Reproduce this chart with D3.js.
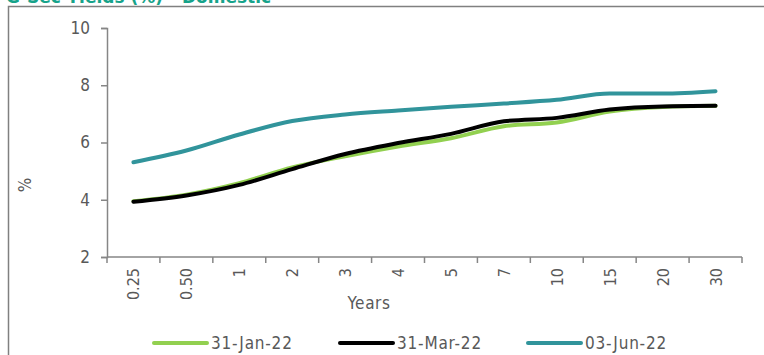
<html>
<head>
<style>
body { margin:0; background:#fff; }
text { font-family: "DejaVu Sans Condensed", "DejaVu Sans", sans-serif; }
</style>
<script src="https://cdnjs.cloudflare.com/ajax/libs/d3/7.8.5/d3.min.js"></script>
</head>
<body>
<script>
var tenors = ["0.25", "0.50", "1", "2", "3", "4", "5", "7", "10", "15", "20", "30"];
var jan22 = [3.95, 4.18, 4.58, 5.13, 5.52, 5.86, 6.15, 6.57, 6.70, 7.08, 7.24, 7.28];
var mar22 = [3.93, 4.15, 4.52, 5.07, 5.60, 5.98, 6.30, 6.74, 6.86, 7.15, 7.26, 7.28];
var jun22 = [5.31, 5.72, 6.28, 6.75, 6.98, 7.12, 7.25, 7.36, 7.49, 7.71, 7.71, 7.79];
var seriesNames = ["31-Jan-22", "31-Mar-22", "03-Jun-22"];
var seriesColors = ["#92d050", "#000000", "#31949b"];
var yTicks = [2, 4, 6, 8, 10];

var w = 764, h = 355;
var svg = d3.select("body").append("svg").attr("width", w).attr("height", h);

// title, cut off by the top edge like the source
svg.append("text").attr("x", 6).attr("y", 3)
  .style("font-family", "Tahoma, 'DejaVu Sans', sans-serif")
  .style("font-weight", "bold").style("font-size", "17px")
  .style("fill", "#17a38a").text("G-Sec Yields (%) - Domestic");

// frame
svg.append("rect").attr("x", 8.5).attr("y", 6.5).attr("width", 800).attr("height", 400)
  .style("fill", "none").style("stroke", "#808080").style("stroke-width", 1.5);

var x = d3.scaleBand().domain(tenors).range([107, 742]);
var y = d3.scaleLinear().domain([2, 10]).range([257, 28]);

var grey = "#868686";
var txt = "#595959";

// y axis
var yAxis = svg.append("g").attr("transform", "translate(107,0)")
  .call(d3.axisLeft(y).tickValues(yTicks).tickSize(6).tickPadding(11));
yAxis.select(".domain").style("stroke", grey).style("stroke-width", 1.5);
yAxis.selectAll(".tick line").style("stroke", grey).style("stroke-width", 1.5);
yAxis.selectAll(".tick text").style("font-size", "17px").style("fill", txt);

// x axis, ticks sit on the band edges
var xg = svg.append("g").attr("transform", "translate(0,257)");
xg.append("line").attr("x1", 107).attr("x2", 742).attr("y1", 0).attr("y2", 0)
  .style("stroke", grey).style("stroke-width", 1.5);
var bounds = tenors.map(function(t){ return x(t); }).concat([x.range()[1]]);
xg.selectAll(".bt").data(bounds).enter().append("line")
  .attr("x1", function(d){ return d; }).attr("x2", function(d){ return d; })
  .attr("y1", 0).attr("y2", 6).style("stroke", grey).style("stroke-width", 1.5);
xg.selectAll(".lbl").data(tenors).enter().append("text")
  .attr("transform", function(d){ return "translate(" + (x(d) + x.bandwidth()/2 + 6) + ",11) rotate(-90)"; })
  .attr("text-anchor", "end")
  .style("font-size", "16px").style("fill", txt)
  .text(function(d){ return d; });

// axis titles
svg.append("text").attr("transform", "translate(31,185) rotate(-90)")
  .attr("text-anchor", "middle").style("font-size", "17px").style("fill", txt).text("%");
svg.append("text").attr("x", 369).attr("y", 309)
  .attr("text-anchor", "middle").style("font-size", "17px").style("letter-spacing", "0.6px")
  .style("fill", txt).text("Years");

// lines
var line = d3.line()
  .x(function(d, i){ return x(tenors[i]) + x.bandwidth()/2; })
  .y(function(d){ return y(d); })
  .curve(d3.curveMonotoneX);

[jan22, mar22, jun22].forEach(function(s, k){
  svg.append("path").datum(s).attr("d", line)
    .style("fill", "none").style("stroke", seriesColors[k])
    .style("stroke-width", 4).style("stroke-linecap", "round").style("stroke-linejoin", "round");
});

// legend
var legX = [154, 340, 528];
seriesNames.forEach(function(n, k){
  var g = svg.append("g").attr("transform", "translate(" + legX[k] + ",343)");
  g.append("line").attr("x1", 0).attr("x2", 53).style("stroke", seriesColors[k])
    .style("stroke-width", 4).style("stroke-linecap", "round");
  g.append("text").attr("x", 57).attr("y", 6).style("font-size", "17px")
    .style("letter-spacing", "0.8px").style("fill", txt).text(n);
});
</script>
</body>
</html>
